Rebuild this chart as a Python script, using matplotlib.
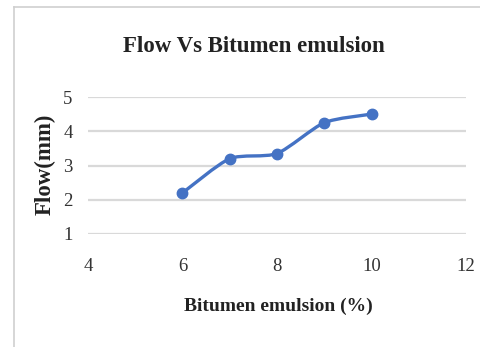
import numpy as np
import matplotlib
matplotlib.use("Agg")
import matplotlib.pyplot as plt
from matplotlib.path import Path
from matplotlib.patches import PathPatch

# Flow measured against bitumen emulsion content
emulsion_pct = [6, 7, 8, 9, 10]
flow_mm = [2.2, 3.2, 3.35, 4.25, 4.5]
x_ticks = [4, 6, 8, 10, 12]
y_ticks = [1, 2, 3, 4, 5]

title = "Flow Vs Bitumen emulsion"
x_label = "Bitumen emulsion (%)"
y_label = "Flow(mm)"

serif = ["Liberation Serif", "DejaVu Serif"]
blue = "#4472C4"
grid_gray = "#d9d9d9"

fig = plt.figure(figsize=(4.81, 3.47), dpi=100)
fig.patch.set_facecolor("white")

# thin frame around the chart area
fig.add_artist(plt.Line2D([14 / 481, 14 / 481], [0, 1 - 7 / 347],
                          transform=fig.transFigure, color="#cfcfcf", lw=1.2))
fig.add_artist(plt.Line2D([14 / 481, 1], [1 - 7 / 347, 1 - 7 / 347],
                          transform=fig.transFigure, color="#cfcfcf", lw=1.2))

ax = fig.add_axes([88 / 481, 1 - 234 / 347, (466 - 88) / 481, (234 - 97) / 347])
ax.set_xlim(4, 12)
ax.set_ylim(1, 5)
ax.set_xticks(x_ticks)
ax.set_yticks(y_ticks)
ax.tick_params(length=0, labelsize=13.5)
ax.tick_params(axis="x", pad=17)
ax.tick_params(axis="y", pad=11)
for lab in ax.get_xticklabels() + ax.get_yticklabels():
    lab.set_family(serif)
    lab.set_color("#333333")
for s in ax.spines.values():
    s.set_visible(False)
ax.grid(axis="y", color=grid_gray, lw=1.6)
ax.set_axisbelow(True)


def smooth_path(xs, ys, tension=0.12):
    # Catmull-Rom style cubic segments through the data points
    pts = np.column_stack([xs, ys]).astype(float)
    verts = [pts[0]]
    codes = [Path.MOVETO]
    n = len(pts)
    for i in range(n - 1):
        p0 = pts[i - 1] if i > 0 else pts[i]
        p1 = pts[i]
        p2 = pts[i + 1]
        p3 = pts[i + 2] if i + 2 < n else pts[i + 1]
        c1 = p1 + (p2 - p0) * tension
        c2 = p2 - (p3 - p1) * tension
        verts += [c1, c2, p2]
        codes += [Path.CURVE4] * 3
    return Path(verts, codes)


ax.add_patch(PathPatch(smooth_path(emulsion_pct, flow_mm), facecolor="none",
                       edgecolor=blue, lw=2.4, capstyle="round", joinstyle="round"))
ax.plot(emulsion_pct, flow_mm, linestyle="none", marker="o", ms=7.5,
        color=blue, zorder=3)

fig.text(254 / 481, 1 - 47 / 347, title, ha="center", va="center",
         family=serif, fontweight="bold", fontsize=16.5, color="#222222")
fig.text(278 / 481, 1 - 306 / 347, x_label, ha="center", va="center",
         family=serif, fontweight="bold", fontsize=14, color="#222222")
fig.text(45 / 481, 1 - 164 / 347, y_label, ha="center", va="center",
         rotation=90, family=serif, fontweight="bold", fontsize=16.5,
         color="#222222")

fig.savefig("out.png", dpi=100)
